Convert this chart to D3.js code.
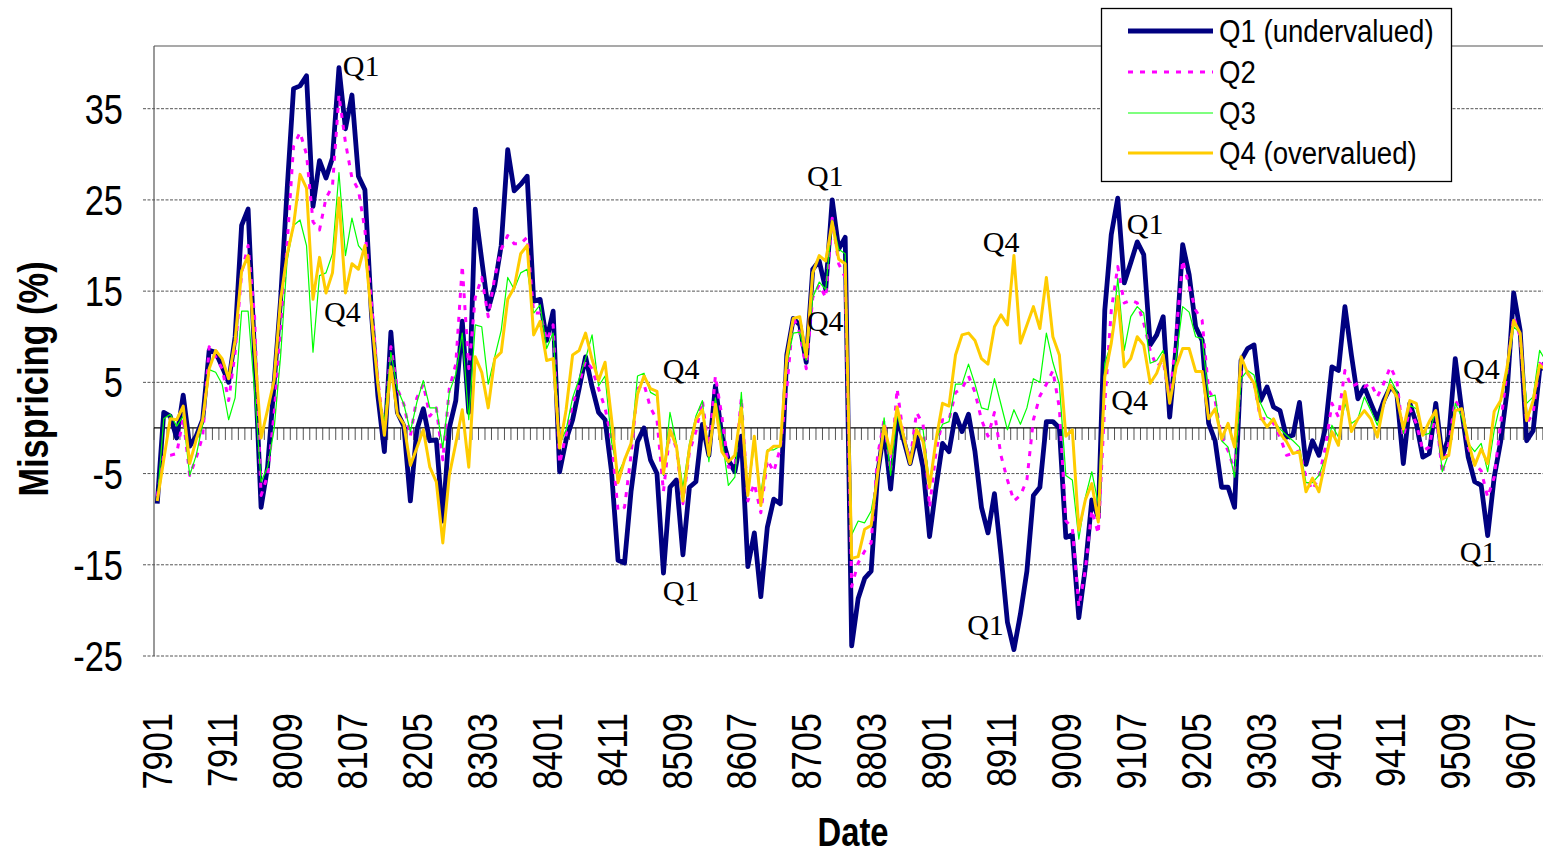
<!DOCTYPE html>
<html>
<head>
<meta charset="utf-8">
<script src="https://cdn.jsdelivr.net/npm/d3@7"></script>
<style>
  body { margin: 0; background: #fff; }
  svg { display: block; }
</style>
</head>
<body>
<div id="chart"></div>
<script>
// categories: monthly, 7901 .. 9611
var months = [];
for (var yy = 79; yy <= 96; yy++) {
  for (var mm = 1; mm <= 12; mm++) {
    if (yy === 96 && mm > 11) break;
    months.push(String(yy) + (mm < 10 ? "0" : "") + mm);
  }
}
var tickLabels = ["7901","7911","8009","8107","8205","8303","8401","8411","8509","8607","8705",
                  "8803","8901","8911","9009","9107","9205","9303","9401","9411","9509","9607"];
var yTicks = [35, 25, 15, 5, -5, -15, -25];

var q1 = [-8.3,1.7,1.3,-1.1,3.6,-2.0,-0.9,0.9,8.5,8.3,
  6.7,5.0,10.0,22.2,24.0,8.0,-8.7,-4.3,4.8,14.0,
  26.0,37.2,37.5,38.6,24.3,29.3,27.4,29.6,39.5,32.8,
  36.5,27.6,26.1,12.6,3.5,-2.6,10.5,1.7,0.2,-8.0,
  -0.2,2.1,-1.4,-1.3,-10.2,0.0,3.0,11.7,1.7,24.0,
  18.4,13.0,15.6,20.0,30.5,26.0,26.7,27.6,13.9,14.1,
  9.6,12.8,-4.8,-1.3,0.9,4.3,7.8,4.5,1.7,0.9,
  -4.8,-14.5,-14.8,-7.0,-1.5,0.0,-3.5,-5.0,-15.9,-6.5,
  -5.7,-13.9,-6.5,-5.9,0.4,-3.0,4.6,-0.9,-3.5,-4.8,
  -0.9,-15.2,-11.5,-18.5,-10.9,-7.8,-8.3,8.0,12.0,11.3,
  7.2,17.4,18.3,15.2,25.0,19.6,20.9,-23.9,-18.7,-16.5,
  -15.7,-5.0,-0.2,-6.7,1.1,-1.3,-3.9,-0.9,-4.3,-11.9,
  -6.5,-1.7,-2.6,1.5,-0.4,1.5,-2.6,-8.7,-11.5,-7.2,
  -13.9,-21.3,-24.3,-20.4,-15.7,-7.4,-6.5,0.7,0.7,0.0,
  -12.0,-11.7,-20.8,-15.3,-7.9,-9.8,12.9,21.2,25.2,15.9,
  18.1,20.4,19.0,9.1,10.2,12.2,1.2,9.0,20.1,16.8,
  11.1,9.6,0.5,-1.4,-6.5,-6.5,-8.7,7.4,8.7,9.1,
  3.0,4.5,2.3,1.9,-1.0,-0.8,2.8,-4.0,-1.4,-3.0,
  0.0,6.7,6.3,13.3,8.0,3.2,4.5,2.7,1.0,3.0,
  4.5,3.8,-3.9,2.7,0.5,-3.2,-2.8,2.7,-3.2,-1.0,
  7.6,1.9,-3.2,-5.9,-6.3,-11.8,-5.4,-1.5,4.1,14.8,
  10.7,-1.4,-0.3,6.3,7.3];

var q2 = [-7.5,-3.0,-3.0,-2.8,1.1,-5.2,-3.3,-0.9,8.9,7.8,
  6.5,3.0,8.3,17.0,20.0,12.2,-7.4,-5.2,1.5,10.4,
  20.0,30.9,32.4,30.0,22.6,21.7,25.2,26.5,36.5,31.3,
  27.4,26.1,21.7,13.9,5.2,-0.6,8.9,4.3,2.6,-0.9,
  3.3,4.8,1.3,2.2,-3.5,4.3,7.0,17.8,6.5,14.3,
  16.5,12.2,16.5,19.6,21.1,20.2,20.2,20.9,12.6,12.6,
  9.6,11.3,-3.9,-0.7,2.6,4.8,7.4,6.5,4.3,2.2,
  -1.3,-9.1,-8.7,-3.0,4.3,4.8,2.2,0.9,-7.0,-0.4,
  -2.2,-8.3,-2.6,-0.4,3.0,-2.6,5.7,1.3,-4.3,-4.3,
  3.3,-8.0,-6.1,-9.3,-3.5,-4.8,-2.2,4.3,12.2,10.4,
  6.5,14.3,15.7,14.3,23.0,18.0,16.5,-17.4,-14.8,-13.5,
  -12.6,-3.0,0.9,-4.8,4.3,-0.9,-3.5,1.7,0.4,-8.7,
  -2.6,0.9,0.9,3.9,4.3,5.7,3.9,0.9,-0.9,1.7,
  -3.0,-5.7,-8.0,-7.4,-5.7,0.9,3.5,4.8,6.3,2.2,
  -10.2,-10.9,-19.6,-15.6,-9.0,-11.6,2.7,12.9,17.7,13.7,
  14.0,13.7,11.5,8.5,6.7,7.4,3.0,10.4,18.4,15.5,
  12.9,11.8,4.1,3.0,-1.0,-2.5,-4.7,6.3,6.0,4.9,
  1.0,1.0,0.5,-1.0,-3.0,-2.8,-2.5,-5.4,-6.8,-5.4,
  -2.1,2.7,1.2,6.3,4.5,4.9,4.5,4.9,3.4,4.9,
  6.7,5.2,-1.0,2.1,0.5,-2.5,-2.1,1.9,-5.0,-1.7,
  3.0,1.9,-2.1,-3.9,-4.7,-7.6,-5.4,0.5,6.3,12.2,
  10.0,0.5,1.6,7.1,6.7];

var q3 = [-8.0,1.0,1.5,0.2,1.3,-5.2,-3.0,0.4,6.4,6.1,
  4.8,0.9,3.3,12.8,12.8,4.0,-5.9,-4.3,-0.2,7.8,
  18.3,22.2,22.8,20.0,8.3,16.7,17.0,19.1,28.0,18.9,
  23.0,20.0,19.1,12.2,4.3,0.6,8.3,4.3,2.6,-0.4,
  2.8,5.2,2.2,2.2,-2.2,3.9,5.9,10.4,0.9,11.3,
  11.1,4.8,7.8,10.7,16.5,15.2,17.0,17.4,12.6,13.5,
  8.7,10.4,-1.7,-0.2,3.3,5.4,7.6,10.2,4.6,5.7,
  -1.5,-5.0,-3.5,-2.0,5.7,6.0,3.9,3.5,-5.2,1.7,
  -1.7,-6.5,-1.7,1.3,3.0,-3.7,3.3,-0.9,-6.3,-5.4,
  3.9,-7.4,-1.7,-7.2,-2.4,-2.4,-2.0,7.0,10.4,10.5,
  7.4,14.3,16.0,15.2,22.8,19.6,19.1,-11.7,-10.2,-10.4,
  -9.1,-5.2,1.1,-5.2,1.5,-1.3,-3.9,0.0,-0.2,-6.1,
  -1.3,0.4,0.7,4.8,4.8,7.0,4.8,2.2,2.0,5.4,
  2.6,-0.2,2.0,0.4,2.2,5.4,5.0,10.4,7.2,4.8,
  -5.2,-5.7,-12.2,-7.6,-4.8,-8.3,7.1,9.3,16.4,8.5,
  12.2,13.3,12.6,7.1,7.4,8.5,2.7,7.8,13.3,12.7,
  10.0,9.8,3.4,3.6,-1.4,-2.1,-5.4,5.4,6.3,5.8,
  2.7,1.2,0.8,-0.1,-0.8,-1.4,-2.1,-6.0,-6.0,-5.2,
  -3.2,0.3,-1.0,2.7,0.5,1.0,3.4,1.9,0.3,2.7,
  5.4,4.0,-0.6,2.5,2.1,-0.8,-0.6,1.9,-4.8,-2.8,
  2.7,1.2,-1.7,-2.6,-1.7,-4.8,-0.3,2.9,6.0,11.1,
  10.4,2.7,3.4,8.5,7.3];

var q4 = [-8.0,-3.5,1.0,0.9,2.4,-3.9,-1.3,0.9,6.5,8.5,
  7.6,5.4,9.6,17.2,18.9,8.7,-1.1,2.0,5.2,14.0,
  19.0,22.2,27.8,26.3,14.1,18.7,14.8,17.0,25.2,14.8,
  18.0,17.4,20.0,12.2,4.8,-0.8,6.7,1.5,0.4,-4.1,
  -2.2,-0.2,-4.3,-5.9,-12.6,-5.2,-1.7,2.0,-4.3,7.8,
  6.1,2.2,7.6,8.3,14.1,15.4,19.1,20.0,10.2,11.7,
  7.4,7.6,-2.2,2.0,8.0,8.5,10.4,7.5,5.2,7.2,
  1.0,-6.0,-3.5,-1.7,3.7,5.7,4.3,4.0,-5.0,-0.2,
  -2.0,-8.0,-2.2,0.9,2.0,-3.0,2.6,-2.6,-3.7,-3.0,
  2.2,-7.4,-0.9,-8.5,-2.6,-2.0,-2.0,7.8,12.0,12.2,
  7.8,17.0,18.9,18.3,22.6,18.5,18.0,-14.3,-14.1,-11.1,
  -10.7,-5.0,0.2,-2.8,2.3,-0.9,-3.9,-0.2,-1.5,-6.5,
  -1.3,2.7,2.4,8.0,10.2,10.4,9.6,7.6,7.0,11.1,
  12.4,11.3,18.9,9.3,11.3,13.3,10.9,16.5,10.0,8.0,
  -0.9,-0.2,-11.2,-7.9,-6.1,-10.3,5.6,9.3,14.4,6.7,
  7.6,10.0,9.1,4.9,6.0,8.0,2.7,6.7,8.7,8.7,
  6.2,6.2,1.0,2.1,-1.2,0.5,-2.1,7.8,6.0,4.9,
  1.2,0.1,1.0,-0.6,-1.5,-2.8,-2.6,-7.0,-5.5,-7.0,
  -3.6,-0.4,-1.9,4.0,-0.4,1.0,1.9,1.0,-1.0,2.7,
  4.7,3.4,-0.1,3.0,2.7,-0.8,0.7,1.9,-3.4,-3.0,
  1.9,2.1,-1.5,-4.1,-2.3,-3.9,1.8,3.0,6.7,11.8,
  10.4,0.8,3.0,6.9,6.3];

var seriesNames = ["Q1 (undervalued)", "Q2", "Q3", "Q4 (overvalued)"];

// text annotations: [label, position in months from start, value]
var annoText  = ["Q1", "Q4", "Q4", "Q1", "Q1", "Q4", "Q4", "Q1", "Q1", "Q4", "Q4", "Q1"];
var annoMonth = [29.1, 26.2, 78.4, 78.4, 100.6, 100.6, 127.7, 125.3, 149.9, 147.5, 201.7, 201.2];
var annoValue = [38.6, 11.6, 5.4, -19.0, 26.5, 10.6, 19.3, -22.7, 21.3, 2.0, 5.4, -14.7];

var svgWidth = 1543, svgHeight = 854;
var plotLeft = 154, plotTop = 46, plotBottom = 656;
var step = 6.49;
var plotRight = plotLeft + months.length * step;

var svg = d3.select("#chart").append("svg")
  .attr("width", svgWidth)
  .attr("height", svgHeight);

var x = d3.scaleLinear().domain([0, months.length]).range([plotLeft, plotRight]);
var y = d3.scaleLinear().domain([-25, 35]).range([plotBottom, 108.7]);
var yMax = y.invert(plotTop);
y.domain([-25, yMax]).range([plotBottom, plotTop]);

var sans = "'Liberation Sans', Arial, sans-serif";
var serif = "'Liberation Serif', 'Times New Roman', serif";
var narrow = 0.82;

// gridlines
svg.append("g").selectAll("line")
  .data(yTicks)
  .enter().append("line")
  .attr("x1", plotLeft - 11).attr("x2", svgWidth)
  .attr("y1", d => y(d)).attr("y2", d => y(d))
  .attr("stroke", "#555").attr("stroke-width", 1)
  .attr("stroke-dasharray", "3,1.5");

// plot frame: top and left
svg.append("line")
  .attr("x1", plotLeft).attr("x2", svgWidth)
  .attr("y1", plotTop).attr("y2", plotTop)
  .attr("stroke", "#555").attr("stroke-width", 1.2);
svg.append("line")
  .attr("x1", plotLeft).attr("x2", plotLeft)
  .attr("y1", plotTop).attr("y2", plotBottom)
  .attr("stroke", "#555").attr("stroke-width", 1.2);

// y tick labels
svg.append("g").selectAll("text")
  .data(yTicks)
  .enter().append("text")
  .attr("transform", d => `translate(123, ${y(d)}) scale(${narrow},1)`)
  .attr("dy", "0.36em")
  .attr("text-anchor", "end")
  .attr("font-family", sans)
  .attr("font-size", 42)
  .text(d => d);

// zero axis with monthly ticks
var zeroY = y(0);
svg.append("g").selectAll("line")
  .data(d3.range(months.length + 1))
  .enter().append("line")
  .attr("x1", d => x(d)).attr("x2", d => x(d))
  .attr("y1", zeroY).attr("y2", zeroY + 12)
  .attr("stroke", "#555").attr("stroke-width", 1);
svg.append("line")
  .attr("x1", plotLeft).attr("x2", svgWidth)
  .attr("y1", zeroY).attr("y2", zeroY)
  .attr("stroke", "#000").attr("stroke-width", 1.3);

// x tick labels
svg.append("g").selectAll("text")
  .data(tickLabels)
  .enter().append("text")
  .attr("transform", d => `translate(${x(months.indexOf(d) + 0.5)}, 713) rotate(-90) scale(${narrow},1)`)
  .attr("dy", "0.36em")
  .attr("text-anchor", "end")
  .attr("font-family", sans)
  .attr("font-size", 42)
  .text(d => d);

// axis titles
svg.append("text")
  .attr("transform", `translate(48, 379) rotate(-90) scale(${narrow},1)`)
  .attr("text-anchor", "middle")
  .attr("font-family", sans)
  .attr("font-weight", "bold")
  .attr("font-size", 42)
  .text("Mispricing (%)");
svg.append("text")
  .attr("transform", `translate(853, 846) scale(${narrow},1)`)
  .attr("text-anchor", "middle")
  .attr("font-family", sans)
  .attr("font-weight", "bold")
  .attr("font-size", 40)
  .text("Date");

// series
var styles = [
  { data: q1, color: "#000080", width: 4.8, dash: null },
  { data: q2, color: "#FF00FF", width: 3, dash: "5,7" },
  { data: q3, color: "#00FF00", width: 1.2, dash: null },
  { data: q4, color: "#FFCC00", width: 3, dash: null }
];

var line = d3.line()
  .x((d, i) => x(i + 0.5))
  .y(d => y(d));

svg.append("g").selectAll("path")
  .data(styles)
  .enter().append("path")
  .attr("d", d => line(d.data))
  .attr("fill", "none")
  .attr("stroke", d => d.color)
  .attr("stroke-width", d => d.width)
  .attr("stroke-dasharray", d => d.dash)
  .attr("stroke-linejoin", "round");

// annotations
svg.append("g").selectAll("text")
  .data(annoText)
  .enter().append("text")
  .attr("x", (d, i) => x(annoMonth[i]))
  .attr("y", (d, i) => y(annoValue[i]))
  .attr("font-family", serif)
  .attr("font-size", 30)
  .text(d => d);

// legend
var legend = svg.append("g");
legend.append("rect")
  .attr("x", 1101.5).attr("y", 8.5)
  .attr("width", 350).attr("height", 173)
  .attr("fill", "#fff").attr("stroke", "#000").attr("stroke-width", 1.3);
var legY = [31, 72, 113, 153];
var items = legend.selectAll("g.item")
  .data(styles)
  .enter().append("g")
  .attr("class", "item")
  .attr("transform", (d, i) => `translate(0, ${legY[i]})`);
items.append("line")
  .attr("x1", 1128).attr("x2", 1213)
  .attr("y1", 0).attr("y2", 0)
  .attr("stroke", d => d.color)
  .attr("stroke-width", d => d.width)
  .attr("stroke-dasharray", d => d.dash);
items.append("text")
  .attr("transform", `translate(1219, 0) scale(0.89,1)`)
  .attr("dy", "0.36em")
  .attr("font-family", sans)
  .attr("font-size", 31)
  .text((d, i) => seriesNames[i]);
</script>
</body>
</html>
